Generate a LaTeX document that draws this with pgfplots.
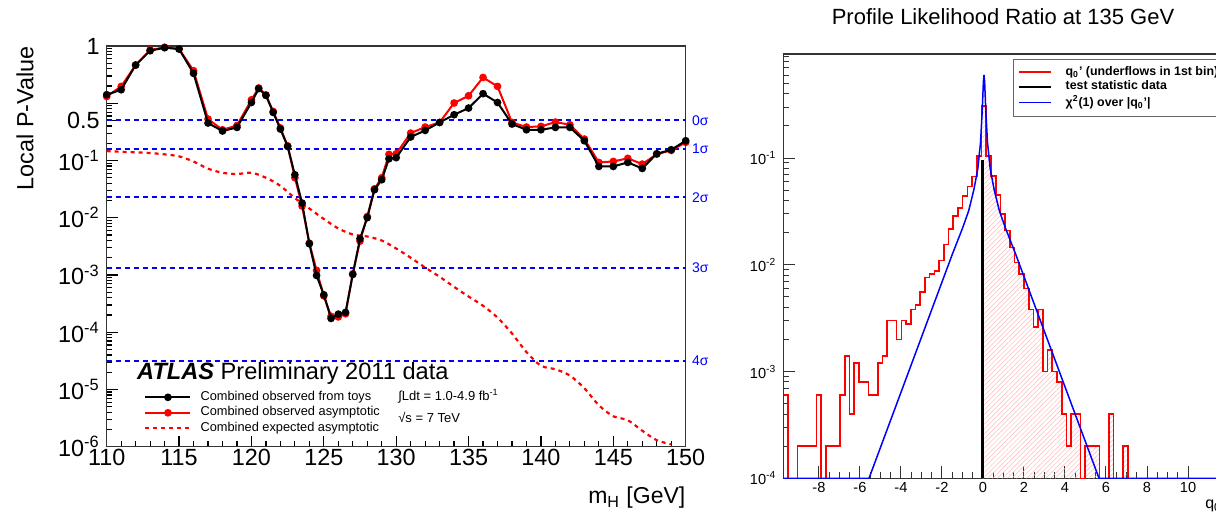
\documentclass[border=0pt]{standalone}
\usepackage{fontspec}
\setmainfont{Liberation Sans}
\usepackage{pgfplots}
\pgfplotsset{compat=1.18}
\usetikzlibrary{patterns.meta}

\begin{document}
\begin{tikzpicture}
\useasboundingbox (0,0) rectangle (608pt,259.5pt);

% ---- left panel: local p-value vs mH
\begin{axis}[
  at={(53.35pt,36.15pt)},anchor=south west,scale only axis,
  width=289.5pt,height=200.35pt,
  xmin=110,xmax=150,ymode=log,ymin=1e-6,ymax=10,
  xtick={110,115,...,150},minor x tick num=4,
  ytick={1e-6,1e-5,1e-4,1e-3,1e-2,1e-1,1,10},
  yticklabels={10\textsuperscript{-6},10\textsuperscript{-5},10\textsuperscript{-4},10\textsuperscript{-3},10\textsuperscript{-2},10\textsuperscript{-1},{},1},
  minor ytick={2e-6,3e-6,4e-6,5e-6,6e-6,7e-6,8e-6,9e-6,
    2e-5,3e-5,4e-5,5e-5,6e-5,7e-5,8e-5,9e-5,
    2e-4,3e-4,4e-4,5e-4,6e-4,7e-4,8e-4,9e-4,
    2e-3,3e-3,4e-3,5e-3,6e-3,7e-3,8e-3,9e-3,
    0.02,0.03,0.04,0.05,0.06,0.07,0.08,0.09,
    0.2,0.3,0.4,0.6,0.7,0.8,0.9,2,3,4,5,6,7,8,9},
  extra y ticks={0.5},extra y tick labels={0.5},
  xtick pos=bottom,ytick pos=left,tick align=inside,
  major tick length=5.5pt,minor tick length=2.8pt,
  tick style={black,line width=0.6pt},
  axis line style={black!80,line width=0.6pt},
  tick label style={font=\fontsize{11.7}{14}\selectfont},
  xticklabel style={inner sep=1pt},
  /pgf/number format/assume math mode=true,
  clip mode=individual,
  legend image code/.code={\draw[#1,mark repeat=2,mark phase=2] plot coordinates {(0pt,0pt) (11.25pt,0pt) (22.5pt,0pt)};},
  legend style={at={(0.054,0.152)},anchor=north west,draw=none,fill=none,
    font=\fontsize{6.4}{8}\selectfont,row sep=0.6pt,nodes={inner sep=0.5pt},
    /tikz/every odd column/.append style={column sep=4pt}},
  legend cell align=left,
]
% sigma reference lines
\addplot[blue,line width=1pt,dash pattern=on 2.5pt off 2pt,forget plot] coordinates {(110,0.5) (150,0.5)};
\addplot[blue,line width=1pt,dash pattern=on 2.5pt off 2pt,forget plot] coordinates {(110,0.1587) (150,0.1587)};
\addplot[blue,line width=1pt,dash pattern=on 2.5pt off 2pt,forget plot] coordinates {(110,0.02275) (150,0.02275)};
\addplot[blue,line width=1pt,dash pattern=on 2.5pt off 2pt,forget plot] coordinates {(110,0.00135) (150,0.00135)};
\addplot[blue,line width=1pt,dash pattern=on 2.5pt off 2pt,forget plot] coordinates {(110,3.167e-5) (150,3.167e-5)};

% expected
\addplot[red,line width=1.1pt,dash pattern=on 2pt off 2pt,smooth,forget plot] coordinates {
(110,0.146) (111,0.142) (112,0.139) (113,0.135) (114,0.128) (115,0.118) (116,0.096)
(117,0.072) (118,0.061) (119,0.058) (120,0.061) (121,0.050) (122,0.036) (123,0.022)
(124,0.0145) (125,0.0095) (126,0.0065) (127,0.0051) (128,0.0047) (129,0.0040) (130,0.0029)
(131,0.0020) (132,0.00135) (133,9.3e-4) (134,6.2e-4) (135,4.2e-4) (136,2.9e-4) (137,1.8e-4)
(138,9.5e-5) (139,4.5e-5) (140,2.6e-5) (141,2.25e-5) (142,1.75e-5) (143,1.05e-5) (144,5.3e-6)
(145,3.4e-6) (146,2.9e-6) (147,1.9e-6) (148,1.3e-6) (149,1.1e-6)};

% observed asymptotic
\addplot[red,line width=1pt,mark=*,mark size=1.4pt,forget plot] coordinates {
(110,1.31) (111,1.97) (112,4.65) (113,8.5) (114,9.5) (115,8.9) (116,3.70) (117,0.53)
(118,0.344) (119,0.409) (120,1.15) (120.5,1.85) (121,1.40) (121.5,0.72) (122,0.37)
(122.5,0.18) (123,0.050) (123.5,0.016) (124,0.0036) (124.5,1.2e-3) (125,4.3e-4)
(125.5,1.9e-4) (126,1.85e-4) (126.5,2.1e-4) (127,1.05e-3) (127.5,3.9e-3) (128,0.0105)
(128.5,0.032) (129,0.050) (129.5,0.128) (130,0.131) (131,0.301) (132,0.384) (133,0.462)
(134,1.01) (135,1.35) (136,2.82) (137,1.97) (138,0.462) (139,0.384) (140,0.394)
(141,0.469) (142,0.421) (143,0.237) (144,0.0925) (145,0.0963) (146,0.109) (147,0.0865)
(148,0.129) (149,0.150) (150,0.207)};

% observed from toys
\addplot[black,line width=1pt,mark=*,mark size=1.4pt,forget plot] coordinates {
(110,1.41) (111,1.72) (112,4.65) (113,8.26) (114,9.33) (115,8.85) (116,3.32) (117,0.451)
(118,0.327) (119,0.378) (120,1.03) (120.5,1.80) (121,1.37) (121.5,0.691) (122,0.354)
(122.5,0.176) (123,0.0563) (123.5,0.0180) (124,0.00351) (124.5,9.8e-4) (125,4.5e-4)
(125.5,1.74e-4) (126,2.07e-4) (126.5,2.22e-4) (127,1.02e-3) (127.5,4.3e-3) (128,0.0100)
(128.5,0.0308) (129,0.0461) (129.5,0.107) (130,0.112) (131,0.257) (132,0.335) (133,0.462)
(134,0.630) (135,0.824) (136,1.47) (137,1.03) (138,0.433) (139,0.344) (140,0.344)
(141,0.378) (142,0.378) (143,0.221) (144,0.0787) (145,0.0787) (146,0.0925) (147,0.0726)
(148,0.131) (149,0.154) (150,0.221)};

\addlegendimage{black,line width=1pt,mark=*,mark size=1.4pt}
\addlegendentry{Combined observed from toys}
\addlegendimage{red,line width=1pt,mark=*,mark size=1.4pt}
\addlegendentry{Combined observed asymptotic}
\addlegendimage{red,line width=1.1pt,dash pattern=on 2pt off 2pt}
\addlegendentry{Combined expected asymptotic}

\foreach \p/\s in {0.5/0,0.1587/1,0.02275/2,0.00135/3,3.167e-5/4}{
  \edef\tmp{\noexpand\node[blue,anchor=west,font=\noexpand\fontsize{7}{8}\noexpand\selectfont,inner sep=0pt,xshift=3pt] at (axis cs:150,\p) {\s σ};}\tmp
}
\node[anchor=west,font=\fontsize{11.8}{14}\selectfont,inner sep=0pt] at (rel axis cs:0.052,0.184) {{\bfseries\itshape ATLAS} Preliminary 2011 data};
\node[anchor=west,font=\fontsize{6.5}{8}\selectfont,inner sep=0pt] at (rel axis cs:0.503,0.127) {∫Ldt = 1.0-4.9 fb\textsuperscript{-1}};
\node[anchor=west,font=\fontsize{6.5}{8}\selectfont,inner sep=0pt] at (rel axis cs:0.503,0.074) {√s = 7 TeV};
\node[anchor=east,font=\fontsize{11.5}{14}\selectfont,inner sep=0pt] at (rel axis cs:1,-0.128) {m\textsubscript{H} [GeV]};
\node[anchor=east,rotate=90,font=\fontsize{11.7}{14}\selectfont,inner sep=0pt] at (rel axis cs:-0.141,1) {Local P-Value};
\end{axis}

% ---- right panel: profile likelihood ratio distribution
\begin{axis}[
  at={(391.65pt,20.35pt)},anchor=south west,scale only axis,
  width=222.85pt,height=212.15pt,
  xmin=-9.74,xmax=12,ymode=log,ymin=1e-4,ymax=0.945,
  xtick={-8,-6,...,10},minor x tick num=3,
  ytick={1e-4,1e-3,1e-2,1e-1},
  yticklabels={10\textsuperscript{-4},10\textsuperscript{-3},10\textsuperscript{-2},10\textsuperscript{-1}},
  minor ytick={2e-4,3e-4,4e-4,5e-4,6e-4,7e-4,8e-4,9e-4,
    2e-3,3e-3,4e-3,5e-3,6e-3,7e-3,8e-3,9e-3,
    0.02,0.03,0.04,0.05,0.06,0.07,0.08,0.09,0.2,0.3,0.4,0.5,0.6,0.7,0.8,0.9},
  xtick pos=bottom,ytick pos=left,tick align=inside,
  major tick length=6pt,minor tick length=3pt,
  tick style={black!80,line width=0.5pt},
  axis line style={black!80,line width=0.6pt},
  tick label style={font=\fontsize{7.3}{9}\selectfont},
  xticklabel style={inner sep=2pt},
  /pgf/number format/assume math mode=true,
  clip mode=individual,
  legend image code/.code={\draw[#1] (0pt,0pt) -- (15.8pt,0pt);},
  legend style={at={(0.515,0.9875)},anchor=north west,draw=black!60,line width=0.4pt,fill=white,
    font=\fontsize{6.2}{7}\selectfont\bfseries,inner sep=2.5pt,row sep=0pt,nodes={inner sep=0.7pt},
    /tikz/every odd column/.append style={column sep=6pt}},
  legend cell align=left,
]
% hatched part right of the observed value
\addplot[draw=none,const plot,pattern={Lines[angle=45,distance=1.7pt,line width=0.25pt]},pattern color=red!28,forget plot] coordinates {
(-0.03,1e-4) (-0.03,0.308) (0.16,0.105) (0.39,0.068) (0.62,0.045) (0.85,0.030) (1.08,0.021)
(1.31,0.0145) (1.54,0.0105) (1.77,8.2e-3) (2.00,6.0e-3) (2.23,3.8e-3) (2.46,2.6e-3)
(2.69,3.8e-3) (2.92,1.0e-3) (3.15,1.6e-3) (3.38,1.0e-3) (3.61,8e-4) (3.84,4e-4) (4.07,2e-4)
(4.30,4e-4) (4.53,4e-4) (4.76,1e-4) (4.99,2e-4) (5.22,2e-4) (5.45,2e-4) (5.68,1e-4)
(5.91,1e-4) (6.14,4e-4) (6.37,1e-4) (6.60,1e-4) (6.83,2e-4) (7.06,1e-4)} -- cycle;

\addplot[red,line width=0.8pt,const plot] coordinates {
(-9.73,6e-4) (-9.50,1e-4) (-9.27,1e-4) (-9.04,2e-4) (-8.81,2e-4) (-8.58,2e-4) (-8.35,2e-4)
(-8.12,6e-4) (-7.89,1e-4) (-7.66,2e-4) (-7.43,2e-4) (-7.20,2e-4) (-6.97,6e-4) (-6.74,1.4e-3)
(-6.51,4e-4) (-6.28,1.2e-3) (-6.05,8e-4) (-5.82,8e-4) (-5.59,6e-4) (-5.36,6e-4) (-5.13,1.2e-3)
(-4.90,1.4e-3) (-4.67,3e-3) (-4.44,3e-3) (-4.21,2e-3) (-3.98,3e-3) (-3.75,2.8e-3) (-3.52,3.8e-3)
(-3.29,4.2e-3) (-3.06,5.6e-3) (-2.83,7.6e-3) (-2.60,8.2e-3) (-2.37,8.8e-3) (-2.14,0.011)
(-1.91,0.0155) (-1.68,0.0217) (-1.45,0.0285) (-1.22,0.0341) (-0.99,0.0439) (-0.76,0.0544)
(-0.53,0.0674) (-0.30,0.105) (-0.07,0.308) (0.16,0.105) (0.39,0.068) (0.62,0.045) (0.85,0.030)
(1.08,0.021) (1.31,0.0145) (1.54,0.0105) (1.77,8.2e-3) (2.00,6.0e-3) (2.23,3.8e-3) (2.46,2.6e-3)
(2.69,3.8e-3) (2.92,1.0e-3) (3.15,1.6e-3) (3.38,1.0e-3) (3.61,8e-4) (3.84,4e-4) (4.07,2e-4)
(4.30,4e-4) (4.53,4e-4) (4.76,1e-4) (4.99,2e-4) (5.22,2e-4) (5.45,2e-4) (5.68,1e-4) (5.91,1e-4)
(6.14,4e-4) (6.37,1e-4) (6.60,1e-4) (6.83,2e-4) (7.06,1e-4) (12,1e-4)};
\addlegendentry{q\textsubscript{0}' (underflows in 1st bin)}

\addplot[black,line width=1.2pt] coordinates {(-0.03,1e-4) (-0.03,0.096)};
\addlegendentry{test statistic data}

\addplot[blue,line width=0.75pt] coordinates {
(-9.74,1e-4) (-5.56,1e-4) (-1.5,0.0125) (-1.0,0.022) (-0.7,0.032) (-0.45,0.050) (-0.25,0.080)
(-0.12,0.14) (-0.04,0.27) (0.02,0.52) (0.05,0.60) (0.08,0.52) (0.14,0.27) (0.22,0.14)
(0.35,0.080) (0.55,0.050) (0.8,0.032) (1.1,0.022) (1.6,0.0125) (5.66,1e-4) (12,1e-4)};
\addlegendentry{χ\textsuperscript{2}(1) over |q\textsubscript{0}'|}

\node[font=\fontsize{11}{13}\selectfont] at (rel axis cs:0.493,1.088) {Profile Likelihood Ratio at 135 GeV};
\node[anchor=west,font=\fontsize{8}{10}\selectfont,inner sep=0pt] at (rel axis cs:0.946,-0.063) {q\textsubscript{0}'};
\end{axis}
\end{tikzpicture}
\end{document}
